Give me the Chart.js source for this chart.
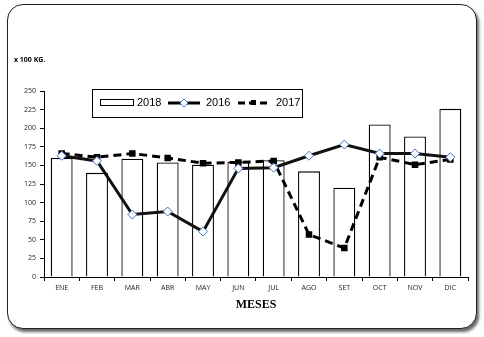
<!DOCTYPE html>
<html>
<head>
<meta charset="utf-8">
<script src="https://cdn.jsdelivr.net/npm/chart.js@4/dist/chart.umd.min.js"></script>
<style>
  html, body { margin: 0; padding: 0; background: #fff; }
  #wrap { position: relative; width: 484px; height: 337px; }
  #frame {
    position: absolute; left: 7px; top: 4px; width: 468px; height: 323px;
    border: 1px solid #222; border-radius: 16px;
    box-shadow: 2px 3px 3px rgba(0,0,0,0.6);
    background: #fff;
  }
  #chart { position: absolute; left: 0; top: 0; }
</style>
</head>
<body>
<div id="wrap">
  <div id="frame"></div>
  <canvas id="chart" width="484" height="337"></canvas>
</div>
<script>
const meses = ['ENE', 'FEB', 'MAR', 'ABR', 'MAY', 'JUN', 'JUL', 'AGO', 'SET', 'OCT', 'NOV', 'DIC'];
const datos2018 = [160, 140, 159, 154, 151, 155, 157, 142, 120, 205, 189, 226];
const datos2016 = [163, 156, 84, 88, 61, 146, 147, 163, 178, 166, 166, 161];
const datos2017 = [166, 161, 166, 160, 153, 154, 156, 57, 39, 161, 151, 158];
const yTicks = [0, 25, 50, 75, 100, 125, 150, 175, 200, 225, 250];

const tickFont = { family: 'Open Sans', size: 7 };

// legend box inside the plot + unit label
const extras = {
    id: 'extras',
    afterDraw(chart) {
        const ctx = chart.ctx;
        ctx.save();
        ctx.font = 'bold 7px "Open Sans"';
        ctx.fillStyle = '#000';
        ctx.textBaseline = 'middle';
        ctx.fillText('x 100 KG.', 14, 60);

        // legend
        ctx.fillStyle = '#fff';
        ctx.fillRect(92.5, 89.5, 210, 28);
        ctx.strokeStyle = '#000';
        ctx.lineWidth = 1;
        ctx.strokeRect(92.5, 89.5, 210, 28);

        ctx.font = '11px "Liberation Sans"';
        ctx.fillStyle = '#000';
        // 2018
        ctx.strokeRect(100.5, 99.5, 33, 6);
        ctx.fillText('2018', 137, 103);
        // 2016
        ctx.lineWidth = 3;
        ctx.beginPath(); ctx.moveTo(168, 103); ctx.lineTo(200, 103); ctx.stroke();
        ctx.lineWidth = 1;
        ctx.fillStyle = '#fff';
        ctx.strokeStyle = '#4472c4';
        ctx.beginPath();
        ctx.moveTo(184, 99); ctx.lineTo(188, 103); ctx.lineTo(184, 107); ctx.lineTo(180, 103); ctx.closePath();
        ctx.fill(); ctx.stroke();
        ctx.fillStyle = '#000';
        ctx.fillText('2016', 206, 103);
        // 2017
        ctx.strokeStyle = '#000';
        ctx.lineWidth = 3;
        ctx.setLineDash([7, 4]);
        ctx.beginPath(); ctx.moveTo(238, 103); ctx.lineTo(268, 103); ctx.stroke();
        ctx.setLineDash([]);
        ctx.fillRect(251, 100, 5, 5);
        ctx.fillText('2017', 276, 103);
        ctx.restore();
    }
};

new Chart(document.getElementById('chart'), {
    type: 'bar',
    data: {
        labels: meses,
        datasets: [{
            type: 'line',
            label: '2016',
            data: datos2016,
            borderColor: '#111',
            borderWidth: 3,
            pointStyle: 'rectRot',
            pointRadius: 4.5,
            pointBackgroundColor: '#fff',
            pointBorderColor: '#4472c4',
            pointBorderWidth: 1,
            tension: 0,
            order: 1
        }, {
            type: 'line',
            label: '2017',
            data: datos2017,
            borderColor: '#000',
            borderWidth: 3,
            borderDash: [8, 5],
            pointStyle: 'rect',
            pointRadius: 2.5,
            pointBackgroundColor: '#000',
            pointBorderColor: '#000',
            tension: 0,
            order: 2
        }, {
            label: '2018',
            data: datos2018,
            backgroundColor: '#fff',
            borderColor: '#000',
            borderWidth: 1.3,
            barPercentage: 0.62,
            categoryPercentage: 1,
            order: 3
        }]
    },
    options: {
        responsive: false,
        animation: false,
        layout: { padding: { left: 0, right: 16, top: 91, bottom: 25 } },
        plugins: {
            legend: { display: false },
            tooltip: { enabled: false }
        },
        scales: {
            x: {
                grid: { display: true, drawOnChartArea: false, color: '#000', tickLength: 4 },
                border: { display: true, color: '#000' },
                ticks: { color: '#222', font: tickFont, maxRotation: 0, padding: 3 },
                title: {
                    display: true,
                    text: 'MESES',
                    color: '#000',
                    font: { family: 'Liberation Serif', size: 12, weight: 'bold' },
                    padding: { top: 4, bottom: 0 }
                },
                afterFit(scale) { scale.height = 35; }
            },
            y: {
                min: 0,
                max: 250,
                afterBuildTicks(scale) { scale.ticks = yTicks.map(v => ({ value: v })); },
                grid: { display: true, drawOnChartArea: false, color: '#000', tickLength: 4 },
                border: { display: true, color: '#000' },
                ticks: { color: '#222', font: tickFont, padding: 4 },
                afterFit(scale) { scale.width = 44; }
            }
        }
    },
    plugins: [extras]
});
</script>
</body>
</html>
